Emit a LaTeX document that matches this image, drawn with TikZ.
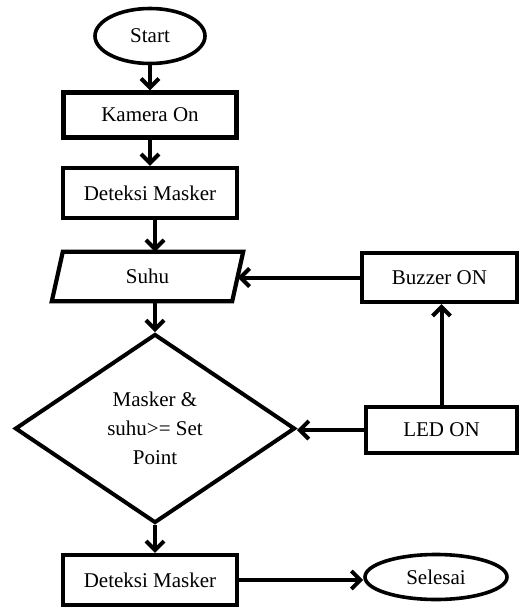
\documentclass[tikz,border=0pt]{standalone}
\usepackage{fontspec}
\setmainfont{Liberation Serif}
\usetikzlibrary{shapes.geometric,arrows.meta,calc}
\begin{document}
\begin{tikzpicture}[x=1pt,y=-1pt,
  every node/.style={font=\fontsize{21}{29}\selectfont, inner sep=0pt},
  box/.style={draw, rectangle, line width=4.2pt},
  term/.style={draw, ellipse, line width=3.6pt},
  arr/.style={line width=4pt, -{Straight Barb[length=9pt,width=18pt]}}]
\useasboundingbox[fill=white] (0,0) rectangle (522,608);
\node[term, minimum width=110, minimum height=55] (start) at (150,36) {Start};
\node[box, minimum width=173, minimum height=45] (kam) at (150,115) {Kamera On};
\node[box, minimum width=174, minimum height=50] (det1) at (150,193) {Deteksi Masker};
\node[minimum width=180, minimum height=49] (suhu) at (147.5,276.5) {Suhu};
\draw[line width=4.2pt, line join=miter] ([xshift=5.5pt]suhu.north west) -- ([xshift=5.5pt]suhu.north east) -- ([xshift=-5.5pt]suhu.south east) -- ([xshift=-5.5pt]suhu.south west) -- cycle;
\node[box, minimum width=155, minimum height=49] (buz) at (439.5,277.5) {Buzzer ON};
\node[box, minimum width=151, minimum height=46] (led) at (441.5,430) {LED ON};
\node[draw, diamond, line width=4pt, minimum width=280, minimum height=189, align=center] (dia) at (155,428.5) {Masker \&\\suhu>= Set\\Point};
\node[box, minimum width=174, minimum height=50] (det2) at (150,580) {Deteksi Masker};
\node[term, minimum width=142, minimum height=45] (sel) at (436,577) {Selesai};
\draw[arr] (start) -- (kam);
\draw[arr] (kam) -- (det1);
\draw[arr] (det1.south -| dia.north) -- (suhu.north -| dia.north);
\draw[arr] (suhu.south -| dia.north) -- (dia.north);
\draw[arr] (dia.south) -- (det2.north -| dia.south);
\draw[arr] (det2.east) -- (det2.east -| sel.west);
\draw[arr] (buz.west) -- (buz.west -| suhu.east);
\draw[arr] (led.north) -- (led.north |- buz.south);
\draw[arr] (led.west) -- (led.west -| dia.east);
\end{tikzpicture}
\end{document}
